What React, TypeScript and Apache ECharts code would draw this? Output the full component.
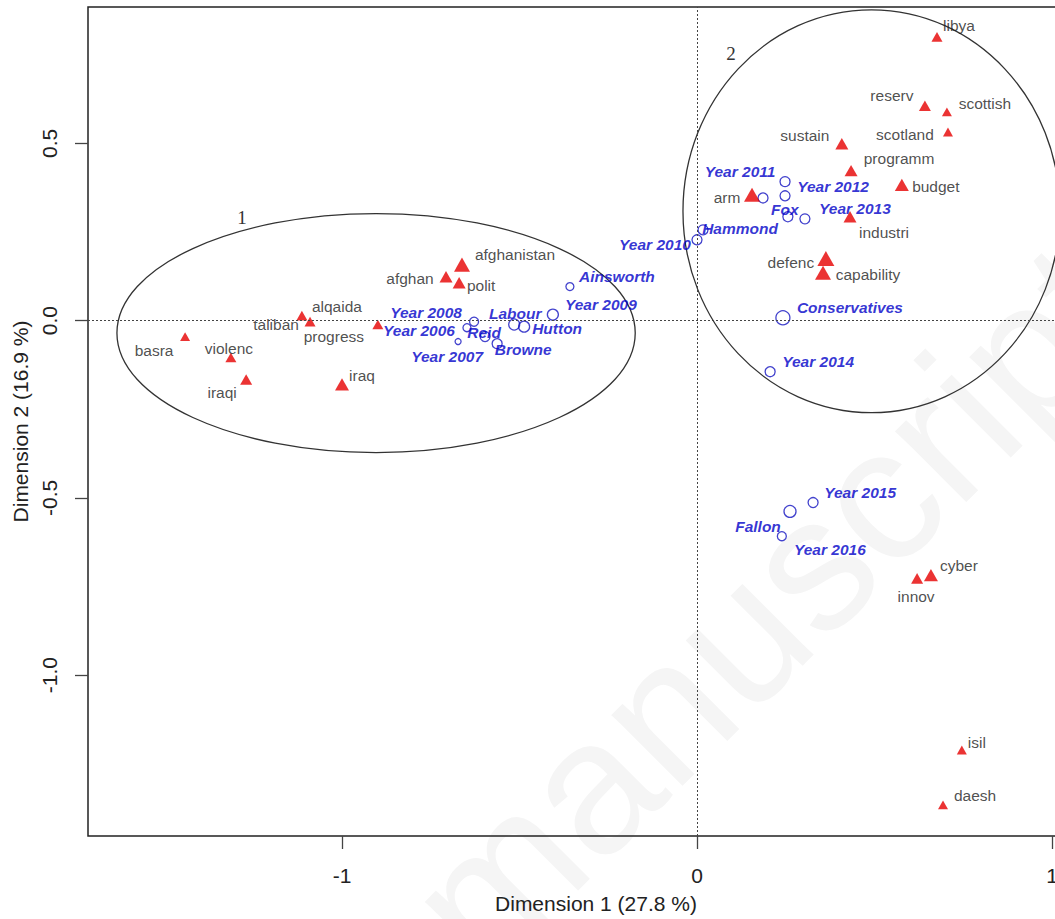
import React, { useEffect, useRef } from "react";
import * as echarts from "echarts";

// Active words (red triangles)
const wordNames = [
  "basra", "violenc", "iraqi", "iraq", "alqaida", "taliban", "progress",
  "afghan", "afghanistan", "polit", "libya", "reserv", "scottish", "scotland",
  "sustain", "programm", "budget", "arm", "industri", "defenc", "capability",
  "cyber", "innov", "isil", "daesh",
];
const wordDim1 = [
  -1.442, -1.313, -1.27, -1.0, -1.113, -1.09, -0.899,
  -0.707, -0.662, -0.67, 0.676, 0.642, 0.704, 0.707,
  0.408, 0.434, 0.577, 0.155, 0.431, 0.363, 0.355,
  0.659, 0.62, 0.746, 0.693,
];
const wordDim2 = [
  -0.045, -0.104, -0.166, -0.18, 0.014, -0.003, -0.011,
  0.124, 0.158, 0.107, 0.8, 0.606, 0.589, 0.532,
  0.499, 0.423, 0.383, 0.355, 0.293, 0.175, 0.135,
  -0.718, -0.727, -1.211, -1.366,
];

// Supplementary categories (blue open circles)
const suppNames = [
  "Year 2006", "Year 2007", "Year 2008", "Reid", "Browne", "Labour", "Hutton",
  "Year 2009", "Ainsworth", "Year 2010", "Hammond", "Year 2011", "Year 2012", "",
  "Fox", "Year 2013", "Conservatives", "Year 2014", "Year 2015", "Fallon", "Year 2016",
];
const suppDim1 = [
  -0.648, -0.673, -0.628, -0.597, -0.563, -0.515, -0.487,
  -0.406, -0.358, 0.0, 0.017, 0.186, 0.248, 0.248,
  0.256, 0.304, 0.242, 0.206, 0.327, 0.262, 0.239,
];
const suppDim2 = [
  -0.02, -0.059, -0.003, -0.045, -0.065, -0.011, -0.017,
  0.017, 0.096, 0.228, 0.256, 0.346, 0.392, 0.352,
  0.293, 0.287, 0.008, -0.144, -0.513, -0.538, -0.608,
];

// Cluster ellipses
const clusterNames = ["1", "2"];
const clusterCenterDim1 = [-0.904, 0.4915];
const clusterCenterDim2 = [-0.035, 0.3085];
const clusterRadiusDim1 = [0.73, 0.531];
const clusterRadiusDim2 = [0.337, 0.568];
const clusterLabelDim1 = [-1.282, 0.096];
const clusterLabelDim2 = [0.29, 0.752];

// Axis ticks
const xTicks = [-1, 0, 1];
const yTicks = [-1, -0.5, 0, 0.5];

// ---- styling (sizes / label offsets in pixels) ----
const wordMarkerSize: Record<string, number> = {
  basra: 10, violenc: 11, iraqi: 12, iraq: 14, alqaida: 11, taliban: 11, progress: 11,
  afghan: 13, afghanistan: 16, polit: 13, libya: 11, reserv: 12, scottish: 10, scotland: 10,
  sustain: 13, programm: 13, budget: 14, arm: 16, industri: 13, defenc: 17, capability: 16,
  cyber: 14, innov: 12, isil: 10, daesh: 10,
};
const wordLabelOffset: Record<string, number[]> = {
  basra: [-31, 14], violenc: [-2, -9], iraqi: [-24, 13], iraq: [20, -9],
  alqaida: [35, -9], taliban: [-34, 3], progress: [-44, 12], afghan: [-36, 2],
  afghanistan: [53, -10], polit: [22, 3], libya: [22, -11], reserv: [-33, -10],
  scottish: [38, -8], scotland: [-43, 3], sustain: [-37, -8], programm: [48, -12],
  budget: [34, 2], arm: [-25, 3], industri: [34, 16], defenc: [-35, 4],
  capability: [45, 2], cyber: [28, -10], innov: [-1, 18], isil: [15, -8], daesh: [32, -9],
};
const suppMarkerSize = [8, 6, 9, 10, 10, 11, 11, 11, 8, 10, 10, 10, 10, 10, 10, 10, 14, 10, 10, 12, 9];
const suppLabelOffset: Record<string, number[]> = {
  "Year 2006": [-48, 3], "Year 2007": [-11, 15], "Year 2008": [-48, -9], Reid: [-1, -4],
  Browne: [26, 6], Labour: [1, -11], Hutton: [33, 2], "Year 2009": [48, -10],
  Ainsworth: [47, -10], "Year 2010": [-42, 5], Hammond: [37, -1], "Year 2011": [-23, -26],
  "Year 2012": [48, 5], Fox: [-3, -7], "Year 2013": [50, -10], Conservatives: [67, -10],
  "Year 2014": [48, -10], "Year 2015": [47, -10], Fallon: [-32, 15], "Year 2016": [48, 13],
};

const FONT = "'Liberation Sans', Arial, sans-serif";

export default function App() {
  const ref = useRef<HTMLDivElement>(null);
  useEffect(() => {
    if (!ref.current) return;
    const chart = echarts.init(ref.current, null, { renderer: "svg" });

    const wordData = wordNames.map((n, i) => {
      const s = wordMarkerSize[n];
      return {
        name: n,
        value: [wordDim1[i], wordDim2[i]],
        symbolSize: [s, s * 0.88],
        label: { offset: wordLabelOffset[n] },
      };
    });
    const suppData = suppNames.map((n, i) => ({
      name: n,
      value: [suppDim1[i], suppDim2[i]],
      symbolSize: suppMarkerSize[i],
      label: n ? { offset: suppLabelOffset[n] } : { show: false },
    }));
    const ellipseData = clusterNames.map((n, i) => [
      clusterCenterDim1[i], clusterCenterDim2[i], clusterRadiusDim1[i], clusterRadiusDim2[i],
    ]);
    const clusterLabelData = clusterNames.map((n, i) => [clusterLabelDim1[i], clusterLabelDim2[i], n]);

    chart.setOption({
      animation: false,
      backgroundColor: "#ffffff",
      graphic: [
        {
          type: "text",
          x: 440,
          y: 935,
          rotation: Math.PI / 4,
          z: -10,
          silent: true,
          style: {
            text: "manuscript",
            fontSize: 190,
            fontFamily: FONT,
            fill: "#f5f5f5",
            align: "left",
            verticalAlign: "middle",
          },
        },
      ],
      grid: {
        left: 88,
        top: 7,
        right: 6,
        bottom: 82,
        show: true,
        borderColor: "#222",
        borderWidth: 1.5,
        backgroundColor: "transparent",
      },
      xAxis: {
        type: "value",
        min: -1.7155,
        max: 1.1465,
        axisLine: { show: false, onZero: false },
        splitLine: { show: false },
        axisTick: {
          show: true,
          inside: false,
          length: 13,
          customValues: xTicks,
          lineStyle: { color: "#444", width: 1.3 },
        },
        axisLabel: {
          customValues: xTicks,
          formatter: (v: number) => String(v),
          fontSize: 21,
          fontFamily: FONT,
          color: "#222",
          margin: 29,
        },
        name: "Dimension 1 (27.8 %)",
        nameLocation: "middle",
        nameGap: 57,
        nameTextStyle: { fontSize: 21, fontFamily: FONT, color: "#222" },
      },
      yAxis: {
        type: "value",
        min: -1.4535,
        max: 0.8845,
        axisLine: { show: false, onZero: false },
        splitLine: { show: false },
        axisTick: {
          show: true,
          inside: false,
          length: 13,
          customValues: yTicks,
          lineStyle: { color: "#444", width: 1.3 },
        },
        axisLabel: {
          customValues: yTicks,
          formatter: (v: number) => v.toFixed(1),
          rotate: 90,
          fontSize: 21,
          fontFamily: FONT,
          color: "#222",
          margin: 28,
        },
        name: "Dimension 2 (16.9 %)",
        nameLocation: "middle",
        nameGap: 52,
        nameTextStyle: { fontSize: 21, fontFamily: FONT, color: "#222" },
      },
      series: [
        {
          type: "custom",
          coordinateSystem: "cartesian2d",
          silent: true,
          z: 1,
          data: ellipseData,
          encode: { x: 0, y: 1 },
          renderItem: (params: any, api: any) => {
            const c = api.coord([api.value(0), api.value(1)]);
            const s = api.size([api.value(2), api.value(3)], [api.value(0), api.value(1)]);
            return {
              type: "ellipse",
              shape: { cx: c[0], cy: c[1], rx: s[0], ry: s[1] },
              style: { fill: "none", stroke: "#333", lineWidth: 1.3 },
            };
          },
          markLine: {
            silent: true,
            symbol: ["none", "none"],
            label: { show: false },
            lineStyle: { type: [2, 2], color: "#444", width: 1 },
            data: [{ xAxis: 0 }, { yAxis: 0 }],
          },
        },
        {
          type: "custom",
          coordinateSystem: "cartesian2d",
          silent: true,
          z: 2,
          data: clusterLabelData,
          encode: { x: 0, y: 1 },
          renderItem: (params: any, api: any) => {
            const c = api.coord([api.value(0), api.value(1)]);
            return {
              type: "text",
              x: c[0],
              y: c[1],
              style: {
                text: String(clusterLabelData[params.dataIndex][2]),
                fontSize: 19,
                fontFamily: "'Liberation Serif', 'Times New Roman', serif",
                fill: "#333",
                align: "center",
                verticalAlign: "middle",
              },
            };
          },
        },
        {
          type: "scatter",
          name: "words",
          z: 4,
          symbol: "triangle",
          itemStyle: { color: "#e60000" },
          label: {
            show: true,
            position: "inside",
            formatter: "{b}",
            color: "#222",
            fontSize: 15.5,
            fontFamily: FONT,
          },
          data: wordData,
        },
        {
          type: "scatter",
          name: "supplementary",
          z: 3,
          symbol: "circle",
          itemStyle: { color: "rgba(255,255,255,0)", borderColor: "#1414c0", borderWidth: 1.3 },
          label: {
            show: true,
            position: "inside",
            formatter: "{b}",
            color: "#0000c8",
            fontSize: 15.5,
            fontStyle: "italic",
            fontWeight: "bold",
            fontFamily: FONT,
          },
          data: suppData,
        },
      ],
    });
    return () => chart.dispose();
  }, []);

  return (
    <div style={{ position: "fixed", left: 0, top: 0, width: 1055, height: 919, overflow: "hidden", background: "#fff" }}>
      <div ref={ref} style={{ width: 1110, height: 919 }} />
    </div>
  );
}
